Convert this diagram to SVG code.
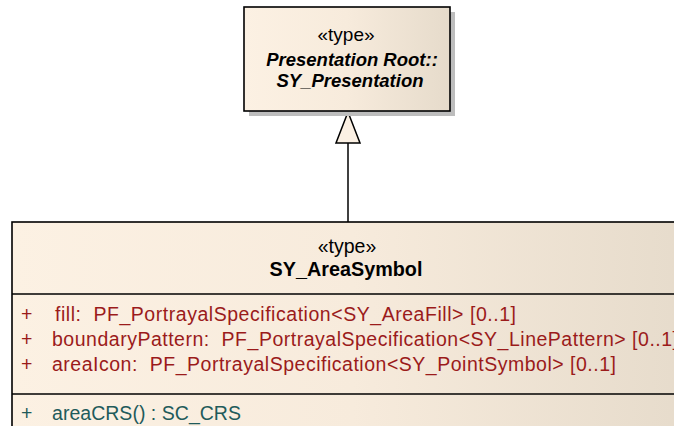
<svg xmlns="http://www.w3.org/2000/svg" width="674" height="426" viewBox="0 0 674 426">
<style>
text{font-family:"Liberation Sans",Arial,sans-serif;font-size:19.5px;white-space:pre;}
.c{text-anchor:middle;fill:#000;}
.bi{font-weight:bold;font-style:italic;font-size:18.5px;}
.t{font-size:19px;}
.b{font-weight:bold;font-size:19.8px;}
.a{fill:#9B1B1B;}
.o{fill:#1F5B5B;}
.box{stroke:#000;stroke-width:1.6;}
.sep{stroke:#000;stroke-width:1.3;}
</style>
<defs>
<linearGradient id="g" x1="0" y1="0" x2="1" y2="0">
<stop offset="0" stop-color="#FCF1E3"/>
<stop offset="0.5" stop-color="#F7EBDC"/>
<stop offset="1" stop-color="#E6DBCB"/>
</linearGradient>
</defs>
<rect width="674" height="426" fill="#fff"/>
<g id="connectors">
<line x1="348" y1="143" x2="348" y2="222" stroke="#000" stroke-width="1.5"/>
<polygon points="348,112 336,143 360,143" fill="#FBF0E3" stroke="#000" stroke-width="1.5"/>
</g>
<g id="SY_Presentation">
<rect x="249" y="12" width="206" height="104" fill="#bdbdbd"/>
<rect x="244" y="7" width="206" height="104" fill="url(#g)" class="box"/>
<text x="346" y="41" class="c t">«type»</text>
<text x="352" y="66" class="c bi">Presentation Root::</text>
<text x="350" y="87" class="c bi">SY_Presentation</text>
</g>
<g id="SY_AreaSymbol">
<rect x="12" y="222" width="680" height="220" fill="url(#g)" class="box"/>
<line x1="12" y1="294" x2="674" y2="294" class="sep"/>
<line x1="12" y1="394" x2="674" y2="394" class="sep"/>
<text x="347" y="253" class="c">«type»</text>
<text x="346" y="276" class="c b">SY_AreaSymbol</text>
<text x="21" y="321" class="a">+</text>
<text x="55" y="321" class="a" textLength="461" lengthAdjust="spacing">fill:  PF_PortrayalSpecification&lt;SY_AreaFill&gt; [0..1]</text>
<text x="21" y="346" class="a">+</text>
<text x="52" y="346" class="a" textLength="626" lengthAdjust="spacing">boundaryPattern:  PF_PortrayalSpecification&lt;SY_LinePattern&gt; [0..1]</text>
<text x="21" y="371" class="a">+</text>
<text x="52" y="371" class="a" textLength="564" lengthAdjust="spacing">areaIcon:  PF_PortrayalSpecification&lt;SY_PointSymbol&gt; [0..1]</text>
<text x="21" y="420" class="o">+</text>
<text x="52" y="420" class="o" textLength="189" lengthAdjust="spacing">areaCRS() : SC_CRS</text>
</g>
</svg>
